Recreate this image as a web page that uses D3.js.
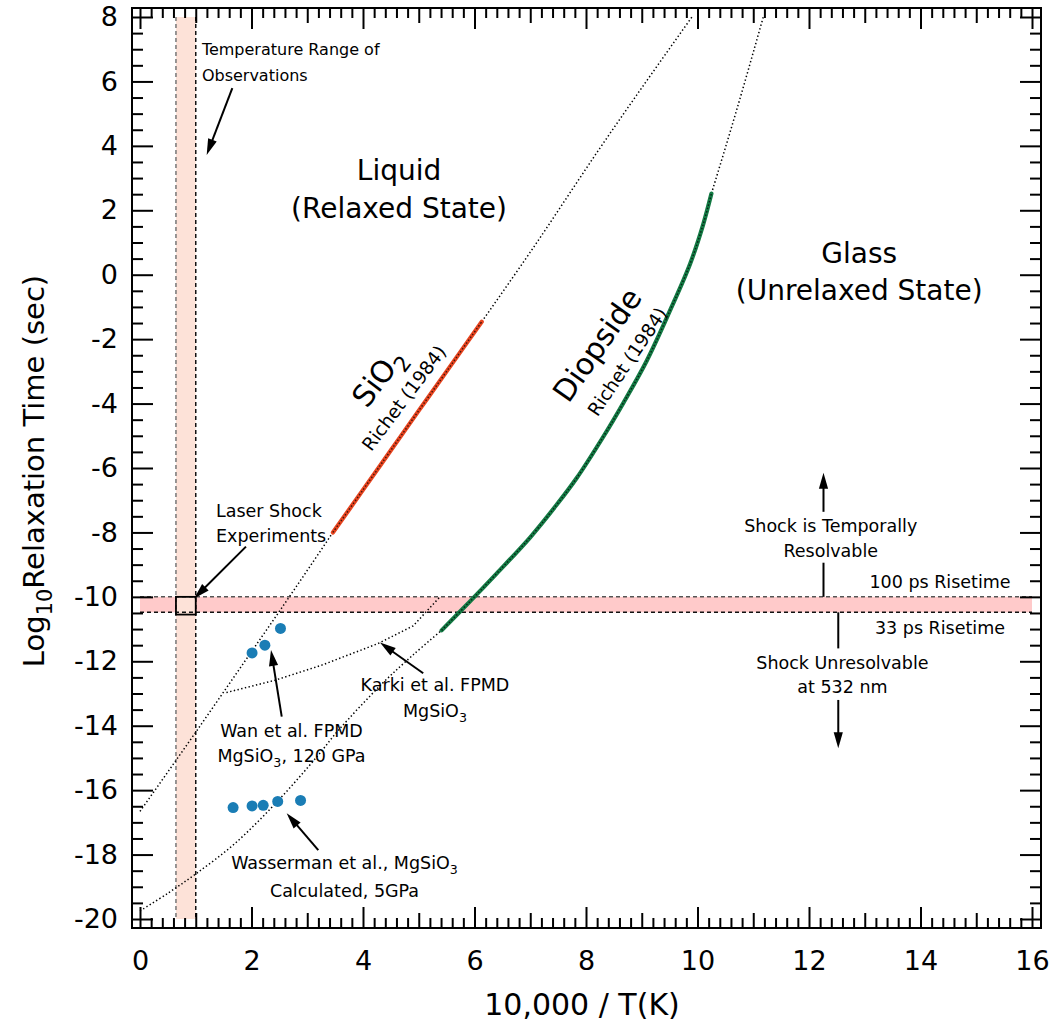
<!DOCTYPE html>
<html>
<head>
<meta charset="utf-8">
<script src="https://cdn.jsdelivr.net/npm/d3@7"></script>
<style>
  html, body { margin: 0; padding: 0; background: #fff; }
  svg { display: block; font-family: "DejaVu Sans", "Noto Sans", sans-serif; }
</style>
</head>
<body>
<svg id="chart" width="1055" height="1026"></svg>
<script>
// ---- data: x = 10,000 / T(K), y = log10 relaxation time (s) ----
const sio2Measured = [[3.46, -8.0], [4.0, -6.68], [4.5, -5.45], [5.0, -4.22], [5.5, -3.0], [6.13, -1.46]];
const sio2ExtrapLow = [[0, -16.66], [1, -14.2], [2, -11.7], [2.5, -10.45], [3.46, -8.0]];
const sio2ExtrapHigh = [[6.13, -1.46], [7, 0.7], [8.25, 3.93], [9.9, 8.0]];

const diopsideMeasured = [[5.41, -11.04], [5.92, -10.14], [6.40, -9.27], [7.0, -8.15], [7.47, -7.15],
  [7.83, -6.32], [8.31, -5.03], [8.67, -3.98], [9.09, -2.67], [9.51, -1.10], [9.87, 0.35],
  [10.10, 1.55], [10.25, 2.52]];
const diopsideExtrapLow = [[0, -19.75], [0.5, -19.2], [1.0, -18.6], [1.7, -17.66], [2.48, -16.32],
  [3.17, -14.97], [3.56, -14.14], [4.34, -12.7], [4.9, -11.8], [5.41, -11.04]];
const diopsideExtrapHigh = [[10.25, 2.52], [10.7, 5.1], [11.18, 8.0]];

const karkiFPMD = [[1.55, -12.97], [2.42, -12.59], [3.26, -12.12], [4.27, -11.45], [4.9, -10.9], [5.38, -10.0]];
const wanFPMD = [[2.01, -11.74], [2.24, -11.5], [2.52, -10.98]];
const wassermanCalc = [[1.67, -16.54], [2.01, -16.49], [2.21, -16.47], [2.47, -16.35], [2.88, -16.32]];

// observation windows
const observedInvT = [0.645, 1.0];        // 10,000/T range of the measurements
const risetimeLog = [-10.48, -10.0];      // log10(33 ps), log10(100 ps)
const laserShockBox = [[0.645, -10.55], [1.0, -10.0]];

// axis ticks
const xTickLabels = [0, 2, 4, 6, 8, 10, 12, 14, 16];
const yTickLabels = [-20, -18, -16, -14, -12, -10, -8, -6, -4, -2, 0, 2, 4, 6, 8];
const xDomain = [0, 16];
const yDomain = [-20, 8];

// ---- layout ----
const plot = { left: 140, right: 1032, top: 17, bottom: 919 };
const frame = { left: plot.left - 8, right: plot.right + 9, top: plot.top - 9, bottom: plot.bottom + 9 };

const x = d3.scaleLinear().domain(xDomain).range([plot.left, plot.right]);
const y = d3.scaleLinear().domain(yDomain).range([plot.bottom, plot.top]);

const svg = d3.select("#chart");

// ---- shaded windows ----
svg.append("rect")
  .attr("x", x(xDomain[0])).attr("width", x(xDomain[1]) - x(xDomain[0]))
  .attr("y", y(risetimeLog[1])).attr("height", y(risetimeLog[0]) - y(risetimeLog[1]))
  .attr("fill", "#ffcaca");
svg.append("rect")
  .attr("x", x(observedInvT[0])).attr("width", x(observedInvT[1]) - x(observedInvT[0]))
  .attr("y", y(yDomain[1])).attr("height", y(yDomain[0]) - y(yDomain[1]))
  .attr("fill", "#fde2d8");

const dash = (x1, y1, x2, y2, col) => svg.append("line")
  .attr("x1", x1).attr("y1", y1).attr("x2", x2).attr("y2", y2)
  .attr("stroke", col).attr("stroke-width", 1.5).attr("stroke-dasharray", "4,3");
dash(x(xDomain[0]), y(risetimeLog[1]), x(xDomain[1]), y(risetimeLog[1]), "#555");
dash(x(xDomain[0]), y(risetimeLog[0]), x(xDomain[1]), y(risetimeLog[0]), "#111");
dash(x(observedInvT[0]), y(yDomain[1]), x(observedInvT[0]), y(yDomain[0]), "#777");
dash(x(observedInvT[1]), y(yDomain[1]), x(observedInvT[1]), y(yDomain[0]), "#111");

// laser shock window box
svg.append("rect")
  .attr("x", x(laserShockBox[0][0])).attr("y", y(laserShockBox[1][1]))
  .attr("width", x(laserShockBox[1][0]) - x(laserShockBox[0][0]))
  .attr("height", y(laserShockBox[0][1]) - y(laserShockBox[1][1]))
  .attr("fill", "none").attr("stroke", "#000").attr("stroke-width", 1.8);

// ---- curves ----
const smooth = d3.line().x(d => x(d[0])).y(d => y(d[1])).curve(d3.curveMonotoneX);
const spline = d3.line().x(d => x(d[0])).y(d => y(d[1])).curve(d3.curveCatmullRom);
const straight = d3.line().x(d => x(d[0])).y(d => y(d[1]));

function dotted(data, gen) {
  svg.append("path").datum(data).attr("d", gen)
    .attr("fill", "none").attr("stroke", "#000")
    .attr("stroke-width", 1.5).attr("stroke-dasharray", "1.4,2.4");
}
dotted(sio2ExtrapLow, smooth);
dotted(sio2ExtrapHigh, smooth);
dotted(diopsideExtrapLow, spline);
dotted(diopsideExtrapHigh, smooth);
dotted(karkiFPMD, straight);

// measured data: coloured band with dark speckle along it
function measured(data, col) {
  svg.append("path").datum(data).attr("d", spline)
    .attr("fill", "none").attr("stroke", col).attr("stroke-width", 4.2)
    .attr("stroke-linecap", "round");
  svg.append("path").datum(data).attr("d", spline)
    .attr("fill", "none").attr("stroke", "#000").attr("stroke-opacity", 0.7)
    .attr("stroke-width", 1.5).attr("stroke-dasharray", "1.5,2");
}
measured(sio2Measured, "#e8441f");
measured(diopsideMeasured, "#137a44");

// simulation points
svg.append("g").selectAll("circle").data(wanFPMD.concat(wassermanCalc)).join("circle")
  .attr("cx", d => x(d[0])).attr("cy", d => y(d[1])).attr("r", 5.5)
  .attr("fill", "#1a7db5");

// ---- frame and ticks ----
svg.append("rect")
  .attr("x", frame.left).attr("y", frame.top)
  .attr("width", frame.right - frame.left).attr("height", frame.bottom - frame.top)
  .attr("fill", "none").attr("stroke", "#000").attr("stroke-width", 2);

const xMinor = d3.range(0, 16.001, 0.2).map(v => +v.toFixed(1)).filter(v => Math.abs(v - Math.round(v)) > 1e-6);
const xMid = d3.range(1, 16, 2);
const yMinor = d3.range(-20, 8.001, 0.5).filter(v => !yTickLabels.includes(v));

function ticks(axisGen, scale, pos, values, len, labels, padding) {
  const g = svg.append("g").attr("transform", pos)
    .call(axisGen(scale).tickValues(values).tickSize(-len).tickPadding(padding || 0)
      .tickFormat(labels ? (d => String(d)) : ""));
  g.select(".domain").remove();
  g.selectAll(".tick line").attr("stroke", "#000").attr("stroke-width", 2);
  g.attr("font-family", null).attr("font-size", 27);
  g.selectAll("text").attr("fill", "#000");
  return g;
}
// bottom
ticks(d3.axisBottom, x, `translate(0,${frame.bottom})`, xMinor, 10);
ticks(d3.axisBottom, x, `translate(0,${frame.bottom})`, xMid, 15);
ticks(d3.axisBottom, x, `translate(0,${frame.bottom})`, xTickLabels, 21, true, 23);
// top
ticks(d3.axisTop, x, `translate(0,${frame.top})`, xMinor, 10);
ticks(d3.axisTop, x, `translate(0,${frame.top})`, xMid, 15);
ticks(d3.axisTop, x, `translate(0,${frame.top})`, xTickLabels, 21);
// left
ticks(d3.axisLeft, y, `translate(${frame.left},0)`, yMinor, 11);
ticks(d3.axisLeft, y, `translate(${frame.left},0)`, yTickLabels, 21, true, 14);
// right
ticks(d3.axisRight, y, `translate(${frame.right},0)`, yMinor, 11);
ticks(d3.axisRight, y, `translate(${frame.right},0)`, yTickLabels, 21);

// ---- text helpers ----
// parts: array of [string, isSubscript]
function rich(sel, parts, fs) {
  let shifted = false;
  parts.forEach(([s, sub]) => {
    const t = sel.append("tspan").text(s);
    if (sub && !shifted) { t.attr("dy", fs * 0.28).attr("font-size", fs * 0.72); shifted = true; }
    else if (!sub && shifted) { t.attr("dy", -fs * 0.28); shifted = false; }
  });
  return sel;
}
function label(px, py, parts, fs, anchor, rotate) {
  const t = svg.append("text")
    .attr("transform", `translate(${px},${py})` + (rotate ? ` rotate(${rotate})` : ""))
    .attr("font-size", fs).attr("text-anchor", anchor || "middle").attr("fill", "#000");
  if (typeof parts === "string") t.text(parts); else rich(t, parts, fs);
  return t;
}
function arrow(from, to) {
  const x1 = x(from[0]), y1 = y(from[1]), x2 = x(to[0]), y2 = y(to[1]);
  const dx = x2 - x1, dy = y2 - y1, L = Math.hypot(dx, dy);
  const ux = dx / L, uy = dy / L, head = 16, half = 4.6;
  const bx = x2 - ux * head, by = y2 - uy * head;
  svg.append("line").attr("x1", x1).attr("y1", y1).attr("x2", bx + ux * 2).attr("y2", by + uy * 2)
    .attr("stroke", "#000").attr("stroke-width", 2);
  svg.append("path")
    .attr("d", `M${x2},${y2}L${bx - uy * half},${by + ux * half}L${bx + uy * half},${by - ux * half}Z`)
    .attr("fill", "#000");
}
function rule(from, to) {
  svg.append("line").attr("x1", x(from[0])).attr("y1", y(from[1]))
    .attr("x2", x(to[0])).attr("y2", y(to[1])).attr("stroke", "#000").attr("stroke-width", 2);
}

// ---- axis titles ----
label(x(8) - 4, 1015, "10,000 / T(K)", 30);
label(44, 471, [["Log", false], ["10", true], ["Relaxation Time (sec)", false]], 29, "middle", -90);

// ---- annotations ----
const small = 17.5;
label(x(1.11), y(6.82), "Temperature Range of", 16, "start");
label(x(1.11), y(6.01), "Observations", 16, "start");
arrow([1.656, 5.79], [1.196, 3.72]);

label(x(4.646), y(2.94), "Liquid", 28);
label(x(4.646), y(1.76), "(Relaxed State)", 28);
label(x(12.9), y(0.354), "Glass", 28);
label(x(12.9), y(-0.785), "(Unrelaxed State)", 28);

label(x(4.27), y(-3.18), [["SiO", false], ["2", true]], 30, "middle", -53).attr("dy", "0.35em");
label(x(4.735), y(-3.83), "Richet (1984)", 18.5, "middle", -53).attr("dy", "0.35em");
label(x(8.2), y(-2.18), "Diopside", 30, "middle", -55).attr("dy", "0.35em");
label(x(8.74), y(-2.7), "Richet (1984)", 18.5, "middle", -56).attr("dy", "0.35em");

label(x(1.363), y(-7.51), "Laser Shock", small, "start");
label(x(1.363), y(-8.29), "Experiments", small, "start");
arrow([1.901, -8.44], [0.97, -10.05]);

label(x(2.717), y(-14.34), "Wan et al. FPMD", small);
label(x(2.717), y(-15.12), [["MgSiO", false], ["3", true], [", 120 GPa", false]], small);
arrow([2.542, -13.72], [2.35, -11.65]);

label(x(5.29), y(-12.91), "Karki et al. FPMD", small);
label(x(5.29), y(-13.72), [["MgSiO", false], ["3", true]], small);
arrow([5.08, -12.37], [4.305, -11.42]);

label(x(3.668), y(-18.46), [["Wasserman et al., MgSiO", false], ["3", true]], small);
label(x(3.668), y(-19.31), "Calculated, 5GPa", small);
arrow([3.198, -17.86], [2.631, -16.72]);

label(x(12.39), y(-7.98), "Shock is Temporally", small);
label(x(12.39), y(-8.75), "Resolvable", small);
arrow([12.26, -7.36], [12.26, -6.15]);
rule([12.26, -8.94], [12.26, risetimeLog[1]]);

label(x(14.35), y(-9.73), "100 ps Risetime", small);
label(x(14.35), y(-11.15), "33 ps Risetime", small);

label(x(12.6), y(-12.25), "Shock Unresolvable", small);
label(x(12.6), y(-12.99), "at 532 nm", small);
rule([12.525, risetimeLog[0]], [12.525, -11.6]);
arrow([12.525, -13.2], [12.525, -14.7]);
</script>
</body>
</html>
